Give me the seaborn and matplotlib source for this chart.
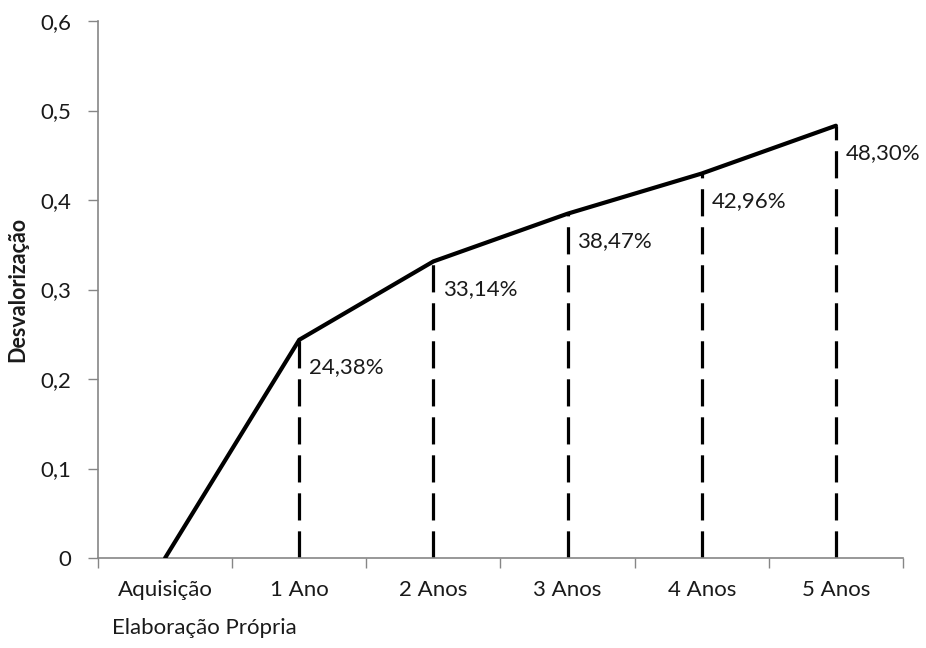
import matplotlib
matplotlib.use("Agg")
import matplotlib.pyplot as plt
import seaborn as sns
import pandas as pd
import numpy as np

# Depreciation by vehicle age
categorias = ["Aquisição", "1 Ano", "2 Anos", "3 Anos", "4 Anos", "5 Anos"]
desvalorizacao = [0.0, 0.2438, 0.3314, 0.3847, 0.4296, 0.4830]
rotulos = ["", "24,38%", "33,14%", "38,47%", "42,96%", "48,30%"]
yticks = [0, 0.1, 0.2, 0.3, 0.4, 0.5, 0.6]
ytick_labels = ["0", "0,1", "0,2", "0,3", "0,4", "0,5", "0,6"]

sns.set_theme(style="white")
plt.rcParams["font.family"] = ["Lato", "DejaVu Sans"]

df = pd.DataFrame({"pos": np.arange(len(categorias)), "valor": desvalorizacao})

W, H = 926, 648
fig = plt.figure(figsize=(W / 100, H / 100), dpi=100)
ax = fig.add_axes([98 / W, (H - 558) / H, (903 - 98) / W, (558 - 21) / H])

axis_gray = "#868686"
text_col = "#1a1a1a"
fs = 16

# vertical dashed drop lines from zero up to each point
for x, v in zip(df["pos"][1:], df["valor"][1:]):
    ax.plot([x, x], [0, v], color="black", lw=2.3, dashes=(8.5, 3.4),
            solid_capstyle="butt", dash_capstyle="butt", zorder=2)

sns.lineplot(data=df, x="pos", y="valor", ax=ax, color="black", lw=3.0,
             zorder=3, solid_joinstyle="miter")

for x, v, t in zip(df["pos"], df["valor"], rotulos):
    if t:
        ax.annotate(t, (x, v), xytext=(7, -20), textcoords="offset points",
                    ha="left", va="center", fontsize=fs, color=text_col)

ax.set_xlim(-0.5, len(categorias) - 0.5)
ax.set_ylim(0, 0.6)
ax.set_yticks(yticks)
ax.set_yticklabels(ytick_labels)

# tick marks at category boundaries, labels at category centres
ax.set_xticks(np.arange(-0.5, len(categorias), 1.0))
ax.set_xticklabels([])
ax.set_xticks(np.arange(len(categorias)), minor=True)
ax.set_xticklabels(categorias, minor=True)
ax.tick_params(axis="x", which="major", length=7, width=1, color=axis_gray,
               direction="out", bottom=True)
ax.tick_params(axis="x", which="minor", length=0, pad=16, labelsize=fs,
               labelcolor=text_col)
ax.tick_params(axis="y", length=7, width=1, color=axis_gray, direction="out",
               left=True, pad=12, labelsize=fs, labelcolor=text_col)

for s in ["top", "right"]:
    ax.spines[s].set_visible(False)
for s in ["left", "bottom"]:
    ax.spines[s].set_color(axis_gray)
    ax.spines[s].set_linewidth(1.2)

ax.set_xlabel("")
ax.set_ylabel("Desvalorização", fontsize=15.5, fontweight="bold", color=text_col)
ax.yaxis.set_label_coords(-70 / (903 - 98), 0.5)

fig.text(112 / W, 1 - 628 / H, "Elaboração Própria", fontsize=fs,
         color=text_col, ha="left", va="center")

fig.savefig("out.png", dpi=100, facecolor="white")
